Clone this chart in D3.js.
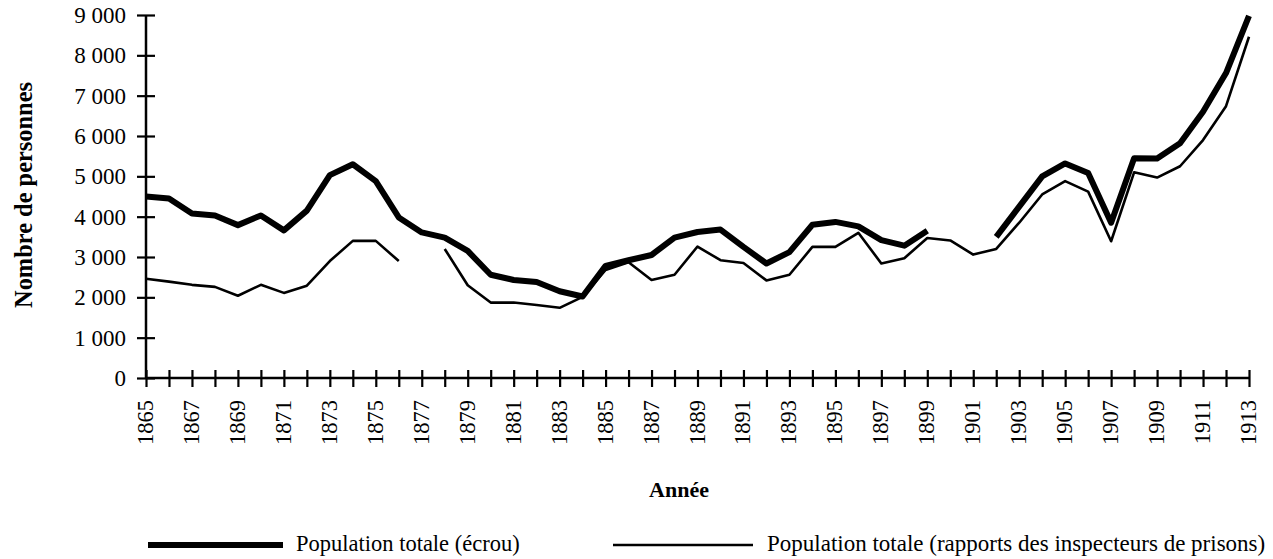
<!DOCTYPE html>
<html>
<head>
<meta charset="utf-8">
<script src="https://cdn.jsdelivr.net/npm/d3@7"></script>
<style>
  html, body { margin: 0; padding: 0; background: #fff; }
  svg { display: block; }
  svg text { font-family: 'Liberation Serif', 'DejaVu Serif', serif; }
</style>
</head>
<body>
<svg id="chart" width="1273" height="559"></svg>
<script>
const years = d3.range(1865, 1914);
const ecrou = [4500, 4450, 4080, 4030, 3790, 4030, 3660, 4150, 5030, 5300,
  4880, 3980, 3610, 3480, 3150, 2560, 2430, 2380, 2150, 2020,
  2780, 2920, 3050, 3480, 3620, 3680, 3250, 2840, 3120, 3800,
  3870, 3760, 3420, 3280, 3650, null, null, 3500, 4250, 5000,
  5320, 5080, 3850, 5450, 5440, 5820, 6600, 7560, 8980];
const inspecteurs = [2460, 2390, 2310, 2260, 2040, 2310, 2110, 2290, 2900, 3400,
  3400, 2900, null, 3200, 2300, 1870, 1870, 1810, 1740, 2010,
  2680, 2870, 2430, 2560, 3260, 2920, 2850, 2420, 2560, 3250,
  3250, 3600, 2840, 2970, 3470, 3410, 3060, 3200, 3850, 4550,
  4880, 4620, 3390, 5100, 4970, 5250, 5900, 6740, 8460];
const yTicks = [0, 1000, 2000, 3000, 4000, 5000, 6000, 7000, 8000, 9000];
const xLabelYears = d3.range(1865, 1914, 2);
const seriesNames = ["Population totale (écrou)", "Population totale (rapports des inspecteurs de prisons)"];
const yTitle = "Nombre de personnes";
const xTitle = "Année";

const FONT = "'Liberation Serif', 'DejaVu Serif', serif";
const svg = d3.select("#chart").attr("font-family", FONT);
const x = d3.scaleLinear().domain([1865, 1913]).range([146, 1249]);
const y = d3.scaleLinear().domain([0, 9000]).range([378, 15]);

// Y axis
const yAxis = svg.append("g").attr("transform", `translate(${x(1865)},0)`)
  .call(d3.axisLeft(y).tickValues(yTicks).tickSize(9).tickPadding(0).tickFormat(() => ""));
yAxis.select(".domain").attr("d", `M0,${y(9000)}V${y(0)}`).attr("stroke", "#000").attr("stroke-width", 2.5);
yAxis.selectAll(".tick line").attr("x1", -9).attr("x2", 9).attr("stroke", "#000").attr("stroke-width", 2.2);
svg.append("g").selectAll("text").data(yTicks).join("text")
  .attr("font-family", FONT)
  .attr("x", 126).attr("y", d => y(d)).attr("dy", "0.35em")
  .attr("text-anchor", "end").attr("font-size", 23)
  .text(d => d === 0 ? "0" : (Math.floor(d / 1000) + " 000"));

// X axis
const xAxis = svg.append("g").attr("transform", `translate(0,${y(0)})`)
  .call(d3.axisBottom(x).tickValues(years).tickSize(9).tickFormat(() => ""));
xAxis.select(".domain").attr("d", `M${x(1865)},0H${x(1913)}`).attr("stroke", "#000").attr("stroke-width", 2.5);
xAxis.selectAll(".tick line").attr("y1", -8).attr("y2", 9).attr("stroke", "#000").attr("stroke-width", 2.2);
svg.append("g").selectAll("text").data(xLabelYears).join("text")
  .attr("font-family", FONT)
  .attr("transform", d => `translate(${x(d) + 7},400) rotate(-90)`)
  .attr("text-anchor", "end").attr("font-size", 22.5)
  .text(d => d);

// Lines
const line = d3.line().defined(d => d[1] !== null).x(d => x(d[0])).y(d => y(d[1]));
svg.append("path").datum(years.map((yr, i) => [yr, inspecteurs[i]]))
  .attr("d", line).attr("fill", "none").attr("stroke", "#000")
  .attr("stroke-width", 2.6).attr("stroke-linejoin", "round");
svg.append("path").datum(years.map((yr, i) => [yr, ecrou[i]]))
  .attr("d", line).attr("fill", "none").attr("stroke", "#000")
  .attr("stroke-width", 6).attr("stroke-linejoin", "round");

// Titles
svg.append("text").attr("font-family", FONT).attr("transform", "translate(32,195) rotate(-90)")
  .attr("text-anchor", "middle").attr("font-weight", "bold").attr("font-size", 25)
  .attr("textLength", 226).attr("lengthAdjust", "spacingAndGlyphs")
  .text(yTitle);
svg.append("text").attr("font-family", FONT).attr("x", 679).attr("y", 497)
  .attr("text-anchor", "middle").attr("font-weight", "bold").attr("font-size", 22)
  .text(xTitle);

// Legend
const legend = [
  { name: seriesNames[0], x1: 148, x2: 283, w: 6, tx: 296, fs: 22.5 },
  { name: seriesNames[1], x1: 613, x2: 753, w: 2.6, tx: 767, fs: 23 }
];
const lg = svg.append("g").selectAll("g").data(legend).join("g");
lg.append("line").attr("x1", d => d.x1).attr("x2", d => d.x2)
  .attr("y1", 545).attr("y2", 545).attr("stroke", "#000").attr("stroke-width", d => d.w);
lg.append("text").attr("font-family", FONT).attr("x", d => d.tx).attr("y", 551)
  .attr("font-size", d => d.fs).text(d => d.name);
</script>
</body>
</html>
